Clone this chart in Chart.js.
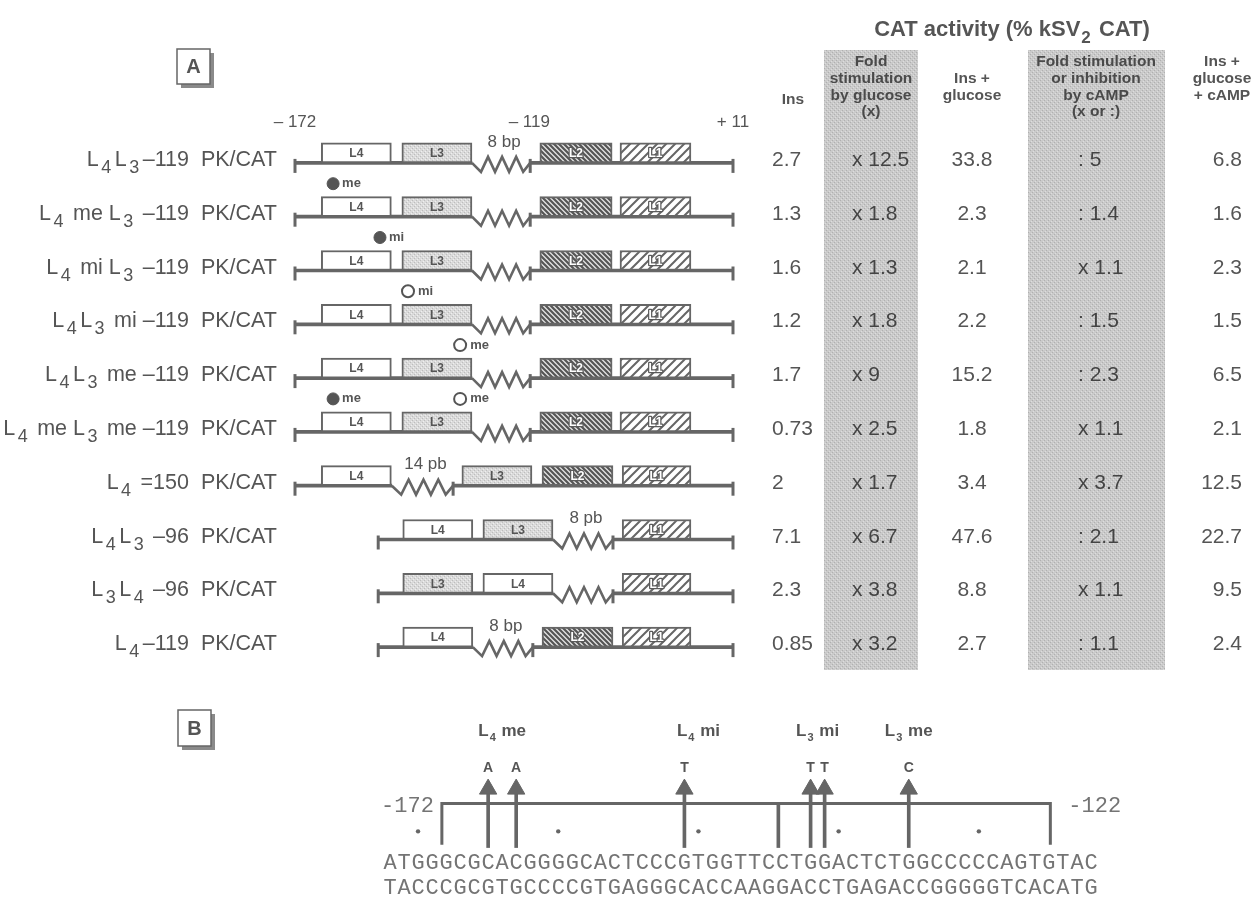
<!DOCTYPE html>
<html><head><meta charset="utf-8">
<script src="https://cdn.jsdelivr.net/npm/chart.js@4.4.1/dist/chart.umd.min.js"></script>
<style>
html,body{margin:0;padding:0;background:#fff;}
#wrap{position:relative;width:1258px;height:908px;overflow:hidden;background:#fff;}
#cA{position:absolute;left:0;top:0;}
#cB{position:absolute;left:0;top:690px;}
</style></head><body>
<div id="wrap"><canvas id="cA" width="1258" height="690"></canvas><canvas id="cB" width="1258" height="218"></canvas></div>
<script>
// ---------------- DATA (panel A) ----------------
const constructNames = [
  'L_4L_3–119  PK/CAT',
  'L_4 me L_3 –119  PK/CAT',
  'L_4 mi L_3 –119  PK/CAT',
  'L_4L_3 mi –119  PK/CAT',
  'L_4L_3 me –119  PK/CAT',
  'L_4 me L_3 me –119  PK/CAT',
  'L_4 =150  PK/CAT',
  'L_4L_3 –96  PK/CAT',
  'L_3L_4 –96  PK/CAT',
  'L_4–119  PK/CAT'
];
// CAT activity (% kSV2 CAT)
const insValues      = [2.7, 1.3, 1.6, 1.2, 1.7, 0.73, 2, 7.1, 2.3, 0.85];
const glucoseFold    = [12.5, 1.8, 1.3, 1.8, 9, 2.5, 1.7, 6.7, 3.8, 3.2];
const insGlucose     = [33.8, 2.3, 2.1, 2.2, 15.2, 1.8, 3.4, 47.6, 8.8, 2.7];
const campFold       = [5, 1.4, 1.1, 1.5, 2.3, 1.1, 3.7, 2.1, 1.1, 1.1];
const campEffect     = [':', ':', 'x', ':', ':', 'x', 'x', ':', 'x', ':'];
const insGlucoseCamp = [6.8, 1.6, 2.3, 1.5, 6.5, 2.1, 12.5, 22.7, 9.5, 2.4];
const columnHeaders = [
  ['Ins'],
  ['Fold', 'stimulation', 'by glucose', '(x)'],
  ['Ins +', 'glucose'],
  ['Fold stimulation', 'or inhibition', 'by cAMP', '(x or :)'],
  ['Ins +', 'glucose', '+ cAMP']
];
const tableTitle = 'CAT activity (% kSV_2 CAT)';

// schematic promoter map (0 = -172 end, 100 = +11 end)
const lineStart = [0, 0, 0, 0, 0, 0, 0, 19, 19, 19];
const lineEnd   = [100, 100, 100, 100, 100, 100, 100, 100, 100, 100];
const blockL4 = [[6,22],[6,22],[6,22],[6,22],[6,22],[6,22],[6,22],[24.6,40.6],[42.9,58.9],[24.6,40.6]];
const blockL3 = [[24.4,40.4],[24.4,40.4],[24.4,40.4],[24.4,40.4],[24.4,40.4],[24.4,40.4],[38.1,54.1],[42.9,58.9],[24.6,40.6],null];
const blockL2 = [[55.9,72.4],[55.9,72.4],[55.9,72.4],[55.9,72.4],[55.9,72.4],[55.9,72.4],[56.4,72.6],null,null,[56.4,72.6]];
const blockL1 = [[74.2,90.4],[74.2,90.4],[74.2,90.4],[74.2,90.4],[74.2,90.4],[74.2,90.4],[74.7,90.4],[74.7,90.4],[74.7,90.4],[74.7,90.4]];
const spacer  = [[40.4,53.7],[40.4,53.7],[40.4,53.7],[40.4,53.7],[40.4,53.7],[40.4,53.7],[22.1,36.1],[58.9,72.6],[58.9,72.6],[40.6,54.3]];
const spacerLabels = ['8 bp', '', '', '', '', '', '14 pb', '8 pb', '', '8 bp'];
const filledMutX   = [null, 8.7, 19.4, null, null, 8.7, null, null, null, null];
const filledMutTag = ['', 'me', 'mi', '', '', 'me', '', '', '', ''];
const openMutX     = [null, null, null, 25.8, 37.7, 37.7, null, null, null, null];
const openMutTag   = ['', '', '', 'mi', 'me', 'me', '', '', '', ''];
const mapTickLabels = ['– 172', '– 119', '+ 11'];
const mapTickPos    = [0, 53.5, 100];

// ---------------- DATA (panel B) ----------------
const seqTop    = 'ATGGGCGCACGGGGCACTCCCGTGGTTCCTGGACTCTGGCCCCCAGTGTAC';
const seqBottom = 'TACCCGCGTGCCCCGTGAGGGCACCAAGGACCTGAGACCGGGGGTCACATG';
const seqStart = -172, seqEnd = -122;
const mutPositions = [-165, -163, -151, -142, -141, -135];
const mutBases     = ['A', 'A', 'T', 'T', 'T', 'C'];
const mutGroupLabels = ['L_4 me', 'L_4 mi', 'L_3 mi', 'L_3 me'];
const mutGroupPos    = [-164, -150, -141.5, -135];
const boxBounds   = [-168.3, -144.3, -124.9];
const dotPositions = [-170, -160, -150, -140, -130];

// ---------------- helpers ----------------
const FAM = '"Liberation Sans", Arial, Helvetica, sans-serif';
const TXT = '#555';
const LINE = '#666';
function makePattern(size, draw){
  const c = document.createElement('canvas'); c.width = c.height = size;
  const g = c.getContext('2d'); draw(g, size); return g.createPattern(c, 'repeat');
}
const patShade = makePattern(4, (g,s)=>{ g.fillStyle='#cacaca'; g.fillRect(0,0,s,s);
  g.fillStyle='#b0b0b0'; g.fillRect(0,0,1,1); g.fillRect(2,2,1,1);
  g.fillStyle='#dddddd'; g.fillRect(1,3,1,1); g.fillRect(3,1,1,1); });
const patL3 = makePattern(4, (g,s)=>{ g.fillStyle='#dadada'; g.fillRect(0,0,s,s);
  g.fillStyle='#bdbdbd'; g.fillRect(0,0,1,1); g.fillRect(2,2,1,1);
  g.fillStyle='#efefef'; g.fillRect(1,3,1,1); g.fillRect(3,1,1,1); });
const patL2 = makePattern(5, (g,s)=>{ g.fillStyle='#e4e4e4'; g.fillRect(0,0,s,s);
  g.strokeStyle='#555'; g.lineWidth=2.2; g.beginPath();
  g.moveTo(0,0); g.lineTo(s,s); g.moveTo(-1,s-1); g.lineTo(1,s+1); g.moveTo(s-1,-1); g.lineTo(s+1,1); g.stroke(); });
const patL1 = makePattern(9, (g,s)=>{ g.fillStyle='#fff'; g.fillRect(0,0,s,s);
  g.strokeStyle='#666'; g.lineWidth=2; g.beginPath();
  g.moveTo(0,s); g.lineTo(s,0); g.moveTo(-1,1); g.lineTo(1,-1); g.moveTo(s-1,s+1); g.lineTo(s+1,s-1); g.stroke(); });

function richSegments(str){
  const segs = []; let cur = '';
  for (let i = 0; i < str.length; i++){
    if (str[i] === '_' && i + 1 < str.length){ if (cur) segs.push({t:cur, sub:false}); cur=''; segs.push({t:str[i+1], sub:true}); i++; }
    else cur += str[i];
  }
  if (cur) segs.push({t:cur, sub:false});
  return segs;
}
function drawRich(ctx, str, x, y, o){
  const size = o.size, weight = o.weight || 'normal', color = o.color || TXT, align = o.align || 'left';
  const subScale = o.subScale || 0.8, subDrop = o.subDrop || 0.33, gapB = o.gapB ?? 1, gapA = o.gapA ?? 3;
  const fam = o.family || FAM;
  const segs = richSegments(str);
  const fN = `${weight} ${size}px ${fam}`, fS = `${weight} ${Math.round(size*subScale)}px ${fam}`;
  let w = 0; const ws = [];
  segs.forEach(s => { ctx.font = s.sub ? fS : fN; const sw = ctx.measureText(s.t).width + (s.sub ? gapB + gapA : 0); ws.push(sw); w += sw; });
  let cx = align === 'right' ? x - w : align === 'center' ? x - w/2 : x;
  ctx.save(); ctx.fillStyle = color; ctx.textAlign = 'left'; ctx.textBaseline = 'alphabetic';
  segs.forEach((s,k) => { ctx.font = s.sub ? fS : fN; ctx.fillText(s.t, cx + (s.sub ? gapB : 0), y + (s.sub ? size*subDrop : 0)); cx += ws[k]; });
  ctx.restore();
}
function panelLetter(ctx, L, x, y, w, h){
  ctx.save();
  ctx.fillStyle = '#8a8a8a'; ctx.fillRect(x+4, y+4, w, h);
  ctx.fillStyle = '#fff'; ctx.fillRect(x, y, w, h);
  ctx.strokeStyle = LINE; ctx.lineWidth = 1.5; ctx.strokeRect(x, y, w, h);
  ctx.fillStyle = TXT; ctx.font = `bold 20px ${FAM}`; ctx.textAlign = 'center'; ctx.textBaseline = 'middle';
  ctx.fillText(L, x + w/2, y + h/2 + 1);
  ctx.restore();
}

// ---------------- CHART A ----------------
const W = 1258, HA = 690;
const ROW_TOP = 136, ROW_BOTTOM = 674, NROWS = constructNames.length;
const ROW_PX = (ROW_BOTTOM - ROW_TOP) / NROWS;
function rowAxis(offsetPx){
  const d = offsetPx / ROW_PX;
  return {type:'linear', display:false, reverse:true, offset:false, min:-0.5 + d, max:NROWS - 0.5 + d};
}
const rows = constructNames.map((_, i) => i);
const backboneData = [];
rows.forEach(i => {
  backboneData.push({y:i, x:[lineStart[i], spacer[i][0]]});
  backboneData.push({y:i, x:[spacer[i][1], lineEnd[i]]});
});
const blockData = arr => rows.filter(i => arr[i]).map(i => ({y:i, x:arr[i]}));
const tickData = [];
rows.forEach(i => { tickData.push({x:lineStart[i], y:i}); tickData.push({x:spacer[i][1], y:i}); tickData.push({x:lineEnd[i], y:i}); });
const filledData = rows.filter(i => filledMutX[i] !== null).map(i => ({x:filledMutX[i], y:i}));
const openData = rows.filter(i => openMutX[i] !== null).map(i => ({x:openMutX[i], y:i}));

const boxBase = {type:'bar', yAxisID:'yBox', xAxisID:'x', barThickness:20, grouped:false,
  borderColor:LINE, borderWidth:2, borderSkipped:false, clip:false};

const colCenter = [793, 871, 972, 1096, 1222];
const headFirstY = [100, 62, 79, 62, 62];
const HEAD_LH = 16.7;

const pluginA = {
  id:'panelA',
  beforeDraw(chart){
    const ctx = chart.ctx;
    ctx.save(); ctx.fillStyle = patShade;
    ctx.fillRect(824, 50, 94, 620);
    ctx.fillRect(1028, 50, 137, 620);
    ctx.restore();
  },
  afterDatasetsDraw(chart){
    const ctx = chart.ctx, xs = chart.scales.x, ys = chart.scales.y, yb = chart.scales.yBox, ym = chart.scales.yMut;
    const xp = v => xs.getPixelForValue(v);
    panelLetter(ctx, 'A', 177, 49, 33, 35);
    // title & headers
    drawRich(ctx, tableTitle, 1012, 36, {size:22, weight:'bold', align:'center', subScale:0.75, subDrop:0.3, gapA:2});
    ctx.save(); ctx.font = `bold 15.5px ${FAM}`; ctx.textAlign = 'center'; ctx.textBaseline = 'middle';
    columnHeaders.forEach((lines, c) => {
      ctx.fillStyle = (c === 1 || c === 3) ? '#4a4a4a' : TXT;
      lines.forEach((t, k) => ctx.fillText(t, colCenter[c], headFirstY[c] + k*HEAD_LH));
    });
    ctx.restore();
    // map position labels
    ctx.save(); ctx.font = `17px ${FAM}`; ctx.fillStyle = TXT; ctx.textAlign = 'center'; ctx.textBaseline = 'middle';
    mapTickLabels.forEach((t, k) => ctx.fillText(t, xp(mapTickPos[k]), ys.getPixelForValue(0) - 41));
    ctx.restore();
    rows.forEach(i => {
      const yl = ys.getPixelForValue(i);
      // construct name
      drawRich(ctx, constructNames[i], 277, yl + 3, {size:21.5, align:'right', subScale:0.82, subDrop:0.33, gapB:2.5, gapA:3.5});
      // zigzag spacer
      const z0 = xp(spacer[i][0]), z1 = xp(spacer[i][1]), n = 8;
      ctx.save(); ctx.strokeStyle = LINE; ctx.lineWidth = 2.6; ctx.lineJoin = 'miter'; ctx.beginPath();
      ctx.moveTo(z0, yl);
      for (let k = 1; k < n; k++) ctx.lineTo(z0 + 2 + k*(z1 - z0 - 2)/n, yl + (k % 2 ? 9 : -6));
      ctx.lineTo(z1, yl); ctx.stroke(); ctx.restore();
      if (spacerLabels[i]){
        ctx.save(); ctx.font = `17px ${FAM}`; ctx.fillStyle = TXT; ctx.textAlign = 'center'; ctx.textBaseline = 'middle';
        ctx.fillText(spacerLabels[i], (z0 + z1)/2 + 3, yl - 21); ctx.restore();
      }
      // box labels
      const yc = yb.getPixelForValue(i);
      [[blockL4,'L4',false],[blockL3,'L3',false],[blockL2,'L2',true],[blockL1,'L1',true]].forEach(([arr, lab, hatched]) => {
        if (!arr[i]) return;
        const cx = (xp(arr[i][0]) + xp(arr[i][1]))/2;
        ctx.save(); ctx.font = `bold 12px ${FAM}`; ctx.textAlign = 'center'; ctx.textBaseline = 'middle';
        if (hatched){ ctx.strokeStyle = '#5a5a5a'; ctx.lineWidth = 2.5; ctx.lineJoin = 'round'; ctx.strokeText(lab, cx, yc + 1); ctx.fillStyle = '#fff'; ctx.fillText(lab, cx, yc + 1); }
        else { ctx.fillStyle = TXT; ctx.fillText(lab, cx, yc + 1); }
        ctx.restore();
      });
      // mutation tags
      ctx.save(); ctx.font = `bold 13px ${FAM}`; ctx.fillStyle = TXT; ctx.textAlign = 'left'; ctx.textBaseline = 'middle';
      if (filledMutX[i] !== null) ctx.fillText(filledMutTag[i], xp(filledMutX[i]) + 9, ym.getPixelForValue(i));
      if (openMutX[i] !== null) ctx.fillText(openMutTag[i], xp(openMutX[i]) + 10, ym.getPixelForValue(i));
      ctx.restore();
      // table values
      const by = yl + 3;
      ctx.save(); ctx.font = `21px ${FAM}`; ctx.textBaseline = 'alphabetic';
      ctx.fillStyle = TXT; ctx.textAlign = 'left'; ctx.fillText(String(insValues[i]), 772, by);
      ctx.fillStyle = '#444'; ctx.fillText('x ' + glucoseFold[i], 852, by);
      ctx.fillStyle = TXT; ctx.textAlign = 'center'; ctx.fillText(String(insGlucose[i]), 972, by);
      ctx.fillStyle = '#444'; ctx.textAlign = 'left'; ctx.fillText(campEffect[i] + ' ' + campFold[i], 1078, by);
      ctx.fillStyle = TXT; ctx.textAlign = 'right'; ctx.fillText(String(insGlucoseCamp[i]), 1242, by);
      ctx.restore();
    });
  }
};

new Chart(document.getElementById('cA'), {
  type:'bar',
  data:{ datasets:[
    {type:'line', label:'filled mut', indexAxis:'x', data:filledData, xAxisID:'x', yAxisID:'yMut', showLine:false,
     pointStyle:'circle', pointRadius:6, pointBackgroundColor:'#555', pointBorderColor:'#555', pointBorderWidth:1, clip:false, order:0},
    {type:'line', label:'open mut', indexAxis:'x', data:openData, xAxisID:'x', yAxisID:'yMut', showLine:false,
     pointStyle:'circle', pointRadius:6, pointBackgroundColor:'#fff', pointBorderColor:'#555', pointBorderWidth:2, clip:false, order:0},
    {type:'line', label:'ends', indexAxis:'x', data:tickData, xAxisID:'x', yAxisID:'yTick', showLine:false,
     pointStyle:'line', rotation:90, pointRadius:7, pointBorderColor:LINE, pointBorderWidth:3, clip:false, order:1},
    Object.assign({}, boxBase, {label:'L4', data:blockData(blockL4), backgroundColor:'#fff', order:2}),
    Object.assign({}, boxBase, {label:'L3', data:blockData(blockL3), backgroundColor:patL3, order:2}),
    Object.assign({}, boxBase, {label:'L2', data:blockData(blockL2), backgroundColor:patL2, order:2}),
    Object.assign({}, boxBase, {label:'L1', data:blockData(blockL1), backgroundColor:patL1, order:2}),
    {type:'bar', label:'backbone', data:backboneData, xAxisID:'x', yAxisID:'y', barThickness:3, grouped:false,
     backgroundColor:LINE, borderWidth:0, clip:false, order:3}
  ]},
  options:{
    indexAxis:'y', responsive:false, maintainAspectRatio:false, animation:false, devicePixelRatio:1, events:[],
    layout:{padding:{left:295, right:W - 733, top:ROW_TOP, bottom:HA - ROW_BOTTOM}},
    scales:{
      x:{type:'linear', min:0, max:100, display:false, offset:false},
      y:rowAxis(0), yBox:rowAxis(10), yMut:rowAxis(33), yTick:rowAxis(-3)
    },
    plugins:{legend:{display:false}, tooltip:{enabled:false}}
  },
  plugins:[pluginA]
});

// ---------------- CHART B ----------------
const HB = 218;
const Y_LABEL = 39, Y_BASE = 75, Y_HEAD = 98, Y_SHAFT = [100, 163], Y_BRACKET = 114, Y_BRACKET_LOW = 160, Y_DOT = 145, Y_SEQ = [180, 208];
const pluginB = {
  id:'panelB',
  afterDatasetsDraw(chart){
    const ctx = chart.ctx, xs = chart.scales.x, ys = chart.scales.y;
    const xp = v => xs.getPixelForValue(v), yp = v => ys.getPixelForValue(v);
    panelLetter(ctx, 'B', 178, 20, 33, 36);
    mutGroupLabels.forEach((t, k) => drawRich(ctx, t, xp(mutGroupPos[k]), yp(Y_LABEL), {size:17, weight:'bold', align:'center', subScale:0.62, subDrop:0.3, gapB:1, gapA:1}));
    ctx.save(); ctx.font = `bold 14px ${FAM}`; ctx.fillStyle = TXT; ctx.textAlign = 'center'; ctx.textBaseline = 'middle';
    mutPositions.forEach((p, k) => ctx.fillText(mutBases[k], xp(p), yp(Y_BASE)));
    ctx.restore();
    ctx.save(); ctx.font = `22px "Liberation Mono", "DejaVu Sans Mono", monospace`; ctx.fillStyle = '#747474';
    ctx.textAlign = 'center'; ctx.textBaseline = 'middle';
    for (let i = 0; i < seqTop.length; i++){
      ctx.fillText(seqTop[i], xp(seqStart + i), yp(Y_SEQ[0]));
      ctx.fillText(seqBottom[i], xp(seqStart + i), yp(Y_SEQ[1]));
    }
    ctx.textAlign = 'right'; ctx.fillText(String(seqStart), xp(boxBounds[0]) - 8, yp(Y_BRACKET) + 3);
    ctx.textAlign = 'left'; ctx.fillText(String(seqEnd), xp(boxBounds[2]) + 18, yp(Y_BRACKET) + 3);
    ctx.restore();
  }
};
new Chart(document.getElementById('cB'), {
  type:'bar',
  data:{ datasets:[
    {type:'line', label:'heads', data:mutPositions.map(p => ({x:p, y:Y_HEAD})), showLine:false,
     pointStyle:'triangle', pointRadius:10, pointBackgroundColor:LINE, pointBorderColor:LINE, pointBorderWidth:1, clip:false, order:0},
    {type:'bar', label:'shafts', data:mutPositions.map(p => ({x:p, y:Y_SHAFT})).concat([{x:boxBounds[1], y:[Y_BRACKET, Y_SHAFT[1]]}]),
     barThickness:3, grouped:false, backgroundColor:LINE, borderWidth:0, clip:false, order:1},
    {type:'line', label:'bracket', data:[{x:boxBounds[0], y:Y_BRACKET_LOW},{x:boxBounds[0], y:Y_BRACKET},{x:boxBounds[2], y:Y_BRACKET},{x:boxBounds[2], y:Y_BRACKET_LOW}],
     borderColor:LINE, borderWidth:3, pointRadius:0, tension:0, fill:false, clip:false, order:2, borderJoinStyle:'miter'},
    {type:'line', label:'dots', data:dotPositions.map(p => ({x:p, y:Y_DOT})), showLine:false,
     pointStyle:'circle', pointRadius:2.2, pointBackgroundColor:'#666', pointBorderWidth:0, clip:false, order:0}
  ]},
  options:{
    responsive:false, maintainAspectRatio:false, animation:false, devicePixelRatio:1, events:[],
    layout:{padding:{left:390, right:W - 1091, top:0, bottom:0}},
    scales:{
      x:{type:'linear', min:seqStart, max:seqEnd, display:false, offset:false},
      y:{type:'linear', min:0, max:HB, reverse:true, display:false, offset:false}
    },
    plugins:{legend:{display:false}, tooltip:{enabled:false}}
  },
  plugins:[pluginB]
});
</script>
</body></html>
